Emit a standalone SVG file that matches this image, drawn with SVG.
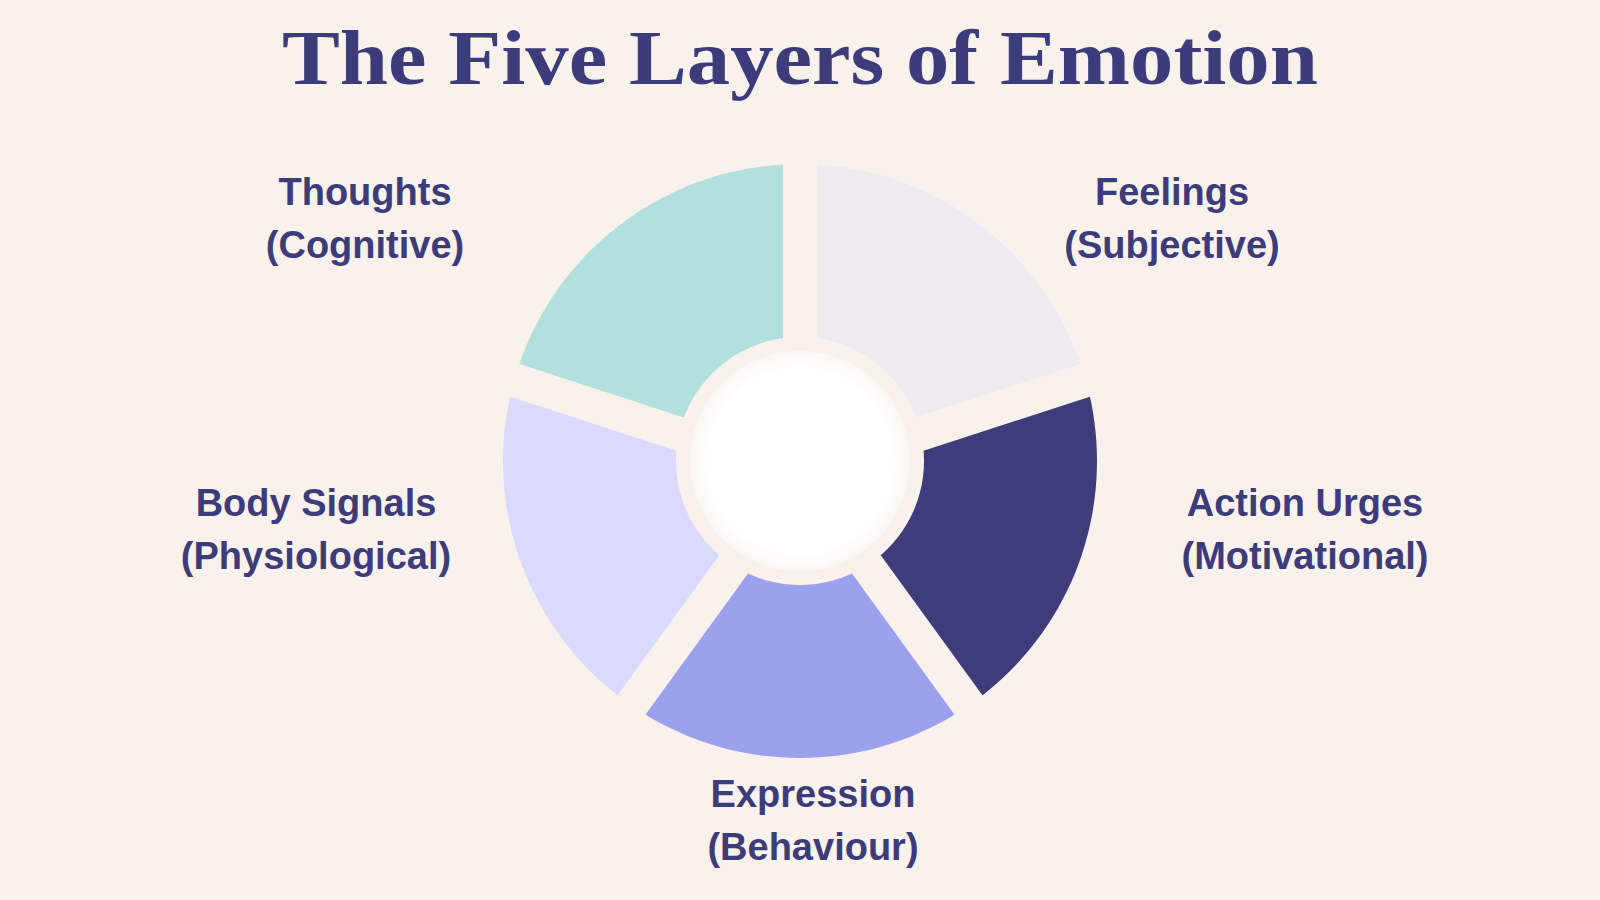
<svg xmlns="http://www.w3.org/2000/svg" width="1600" height="900" viewBox="0 0 1600 900">
  <defs>
    <radialGradient id="core" cx="0.5" cy="0.5" r="0.5">
      <stop offset="0" stop-color="#ffffff"/>
      <stop offset="0.84" stop-color="#ffffff"/>
      <stop offset="0.95" stop-color="#fdfaf7"/>
      <stop offset="1" stop-color="#fcf7f3"/>
    </radialGradient>
    <path id="ring" d="M800,164 A297,297 0 1 1 799.99,164 Z M800,337 A124,124 0 1 0 800.01,337 Z" fill-rule="evenodd"/>
    <clipPath id="w-feel"><polygon points="800,473 800,73 1035.1,149.4 1180.4,349.4"/></clipPath>
    <clipPath id="w-act"><polygon points="800,473 1180.4,349.4 1180.4,596.6 1035.1,796.6"/></clipPath>
    <clipPath id="w-exp"><polygon points="800,473 1035.1,796.6 800,873 564.9,796.6"/></clipPath>
    <clipPath id="w-body"><polygon points="800,473 564.9,796.6 419.6,596.6 419.6,349.4"/></clipPath>
    <clipPath id="w-th"><polygon points="800,473 419.6,349.4 564.9,149.4 800,73"/></clipPath>
  </defs>
  <style>
    .title { font-family: "Liberation Serif", "DejaVu Serif", serif; font-weight: bold; font-size: 78px; fill: #3d3c7a; }
    .label { font-family: "Liberation Sans", Arial, sans-serif; font-weight: bold; font-size: 38px; fill: #3d3c7a; text-anchor: middle; }
    .gap { stroke: #f9f2ec; stroke-width: 34; stroke-linecap: butt; fill: none; }
  </style>
  <rect x="0" y="0" width="1600" height="900" fill="#f9f2ec"/>
  <text class="title" x="800" y="84" text-anchor="middle" textLength="1036" lengthAdjust="spacingAndGlyphs">The Five Layers of Emotion</text>

  <g id="feelings">
    <use href="#ring" fill="#efeaf0" clip-path="url(#w-feel)"/>
    <text class="label" x="1172" y="205">Feelings</text>
    <text class="label" x="1172" y="258">(Subjective)</text>
  </g>
  <g id="action">
    <use href="#ring" fill="#3e3c7b" clip-path="url(#w-act)"/>
    <text class="label" x="1305" y="516">Action Urges</text>
    <text class="label" x="1305" y="569">(Motivational)</text>
  </g>
  <g id="expression">
    <use href="#ring" fill="#9ca1ed" clip-path="url(#w-exp)"/>
    <text class="label" x="813" y="807">Expression</text>
    <text class="label" x="813" y="860">(Behaviour)</text>
  </g>
  <g id="body">
    <use href="#ring" fill="#dadafd" clip-path="url(#w-body)"/>
    <text class="label" x="316" y="516">Body Signals</text>
    <text class="label" x="316" y="569">(Physiological)</text>
  </g>
  <g id="thoughts">
    <use href="#ring" fill="#b2e0dc" clip-path="url(#w-th)"/>
    <text class="label" x="365" y="205">Thoughts</text>
    <text class="label" x="365" y="258">(Cognitive)</text>
  </g>
  <g id="gaps">
    <line class="gap" x1="800" y1="473" x2="800" y2="120"/>
    <line class="gap" x1="800" y1="473" x2="1161.4" y2="355.6"/>
    <line class="gap" x1="800" y1="473" x2="1023.4" y2="780.5"/>
    <line class="gap" x1="800" y1="473" x2="576.6" y2="780.5"/>
    <line class="gap" x1="800" y1="473" x2="438.6" y2="355.6"/>
  </g>
  <g id="center">
    <circle cx="800" cy="461" r="110" fill="url(#core)"/>
  </g>
  <g id="connectors"></g>
</svg>
